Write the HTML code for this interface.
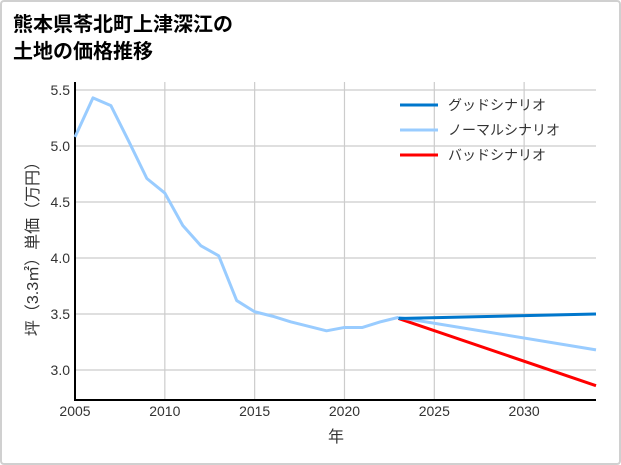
<!DOCTYPE html>
<html><head><meta charset="utf-8">
<style>
body{margin:0;width:621px;height:465px;background:#fff;overflow:hidden;font-family:"Liberation Sans","Noto Sans CJK JP",sans-serif;}
#frame{position:absolute;left:0;top:0;width:617px;height:461px;border:2px solid #d0d0d0;border-radius:4px;}
</style></head><body>
<div id="frame"></div>
<svg id="chart" width="621" height="465" style="position:absolute;left:0;top:0">
<text x="13" y="31" font-size="20" font-weight="bold" font-family="'Liberation Sans','Noto Sans CJK JP',sans-serif">熊本県苓北町上津深江の</text>
<text x="13" y="58" font-size="20" font-weight="bold" font-family="'Liberation Sans','Noto Sans CJK JP',sans-serif">土地の価格推移</text>
</svg>
<script>
const years=[2005,2006,2007,2008,2009,2010,2011,2012,2013,2014,2015,2016,2017,2018,2019,2020,2021,2022,2023];
const normalHist=[5.08,5.43,5.36,5.04,4.71,4.58,4.29,4.11,4.02,3.62,3.52,3.48,3.43,3.39,3.35,3.38,3.38,3.43,3.47];
const futureYears=[2023,2034];
const goodVals=[3.46,3.50];
const normalVals=[3.47,3.18];
const badVals=[3.46,2.86];
const xTicks=[2005,2010,2015,2020,2025,2030];
const yTicks=[3.0,3.5,4.0,4.5,5.0,5.5];
const NS="http://www.w3.org/2000/svg";
const svg=document.getElementById('chart');
const L=75,R=596,T=82,B=400;
const x=v=>L+(v-2005)*(R-L)/29;
const y=v=>370-(v-3)*112;
function mk(t,a){const e=document.createElementNS(NS,t);for(const k in a)e.setAttribute(k,a[k]);svg.appendChild(e);return e;}
const FF="'Liberation Sans','Noto Sans CJK JP',sans-serif";
xTicks.forEach(v=>{
 const g=mk('line',{x1:x(v),x2:x(v),y1:T,y2:B,stroke:'#cccccc','stroke-width':1.2});
 
 
 const t=mk('text',{x:x(v),y:B+16,'text-anchor':'middle','font-size':14,fill:'#333','font-family':FF});
 t.textContent=v;
 
 
});
yTicks.forEach(v=>{
 const g=mk('line',{x1:L,x2:R,y1:y(v),y2:y(v),stroke:'#cccccc','stroke-width':1.2});
 
 
 const t=mk('text',{x:L-5,y:y(v)+5,'text-anchor':'end','font-size':14,fill:'#333','font-family':FF});
 t.textContent=v.toFixed(1);
 
 
});
const ax=mk('path',{d:`M${L} ${T}V${B}H${R}`,fill:'none',stroke:'#000','stroke-width':2});


function line(xs,vs,c,name){
 const p=mk('polyline',{points:xs.map((a,i)=>x(a)+','+y(vs[i])).join(' '),fill:'none',stroke:c,'stroke-width':3,'stroke-linejoin':'round'});
 
 
}
line(futureYears,badVals,'#ff0000','bad-scenario-line');
line(futureYears,normalVals,'#99ccff','normal-scenario-line');
line(futureYears,goodVals,'#0077cc','good-scenario-line');
line(years,normalHist,'#99ccff','historical-line');
const legend=[['グッドシナリオ','#0077cc'],['ノーマルシナリオ','#99ccff'],['バッドシナリオ','#ff0000']];
legend.forEach((d,i)=>{
 const ly=105+i*25;
 const l=mk('line',{x1:400,x2:438,y1:ly,y2:ly,stroke:d[1],'stroke-width':3});
 
 
 const t=mk('text',{x:448,y:ly+5,'font-size':14,fill:'#333','font-family':FF});
 t.textContent=d[0];
 
 
});
const xl=mk('text',{x:336,y:442,'text-anchor':'middle','font-size':16,fill:'#333','font-family':FF});
xl.textContent='年';


const yl=mk('text',{x:0,y:0,'text-anchor':'middle','font-size':16,fill:'#333','font-family':FF,transform:'translate(38,245) rotate(-90)'});
yl.textContent='坪（3.3㎡）単価（万円）';


</script>
</body></html>
